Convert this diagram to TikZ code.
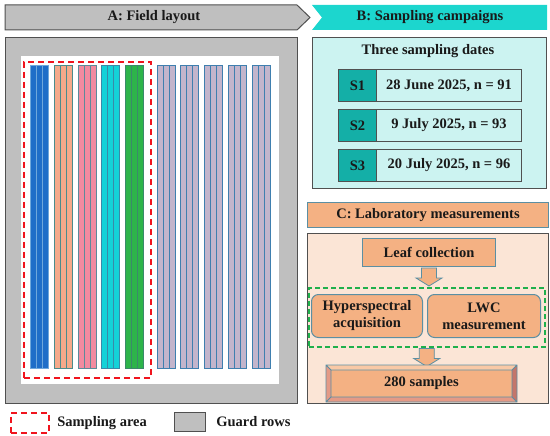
\documentclass[tikz,border=0pt]{standalone}
\usepackage{fontspec}
\setmainfont{Liberation Serif}
\usetikzlibrary{calc, positioning}

\definecolor{guardgray}{HTML}{BFBFBF}
\definecolor{edgegray}{HTML}{505050}
\definecolor{headcyan}{HTML}{1CD6CE}
\definecolor{paleCyan}{HTML}{CCF3F1}
\definecolor{sTeal}{HTML}{14AFA7}
\definecolor{labOrange}{HTML}{F4B183}
\definecolor{labPeach}{HTML}{FBE5D6}
\definecolor{labEdge}{HTML}{5B8FA3}
\definecolor{areaRed}{HTML}{F0141E}
\definecolor{dashGreen}{HTML}{1FB04C}
\definecolor{bevelLight}{HTML}{F9C9A6}
\definecolor{bevelDark}{HTML}{C4766A}
\definecolor{bevelMid}{HTML}{E49A86}

\begin{document}
\begin{tikzpicture}[
   x=1pt, y=-1pt,
   font=\fontsize{14.5}{17}\selectfont\bfseries,
   text=black!90,
   panel/.style={draw=edgegray, line width=1pt, inner sep=0pt, anchor=north west},
   labbox/.style={panel, fill=labOrange, draw=labEdge},
   datebox/.style={panel, fill=paleCyan},
   tagbox/.style={panel, fill=sTeal},
   redarea/.style={draw=areaRed, line width=1.8pt, dash pattern=on 6pt off 4pt},
   greenarea/.style={draw=dashGreen, line width=1.5pt, dash pattern=on 5pt off 3pt},
   blockarr/.style={fill=labOrange, draw=labEdge, line width=0.8pt, line join=miter},
   strip/.style={line width=0.8pt}]

   \useasboundingbox (0,0) rectangle (550,436);

   % headers
   \path[fill=guardgray, draw=edgegray, line width=1pt]
      (5,5) -- (297,5) -- (310,17.5) -- (297,30) -- (5,30) -- cycle;
   \node (headA) at (154,17.5) {A: Field layout};
   \path[fill=headcyan]
      (312,5) -- (547,5) -- (547,30) -- (312,30) -- (322,17.5) -- cycle;
   \node (headB) at (430,17.5) {B: Sampling campaigns};

   % A: field layout
   \node[panel, fill=guardgray, minimum width=292, minimum height=366] (field) at (5,37) {};
   \node[panel, draw=none, fill=white, minimum width=258, minimum height=327] (plot) at (20,56) {};

   \foreach \gx/\gfill/\gdraw in {30/1F6EC8/6FA8DC, 54/F5A98A/4A8C8C, 78/F28AA0/5C8A9A,
         101/14D2D8/3A8AA8, 125/2DB44A/3A8A6A, 157/C3B5CC/3F7FAF, 180/C3B5CC/3F7FAF,
         204/C3B5CC/3F7FAF, 228/C3B5CC/3F7FAF, 252/C3B5CC/3F7FAF} {
      \definecolor{stripfill}{HTML}{\gfill}
      \definecolor{stripdraw}{HTML}{\gdraw}
      \foreach \k in {0,1,2} {
         \path[strip, fill=stripfill, draw=stripdraw]
            (\gx+6*\k,65) rectangle ++(6,303);
      }
   }

   \node[panel, redarea, minimum width=127, minimum height=316] (area) at (23,61) {};

   % legend
   \node[panel, redarea, minimum width=38, minimum height=20] (areakey) at (10,412) {};
   \node[right=4pt of areakey] (areatext) {Sampling area};
   \node[panel, fill=guardgray, line width=0.8pt, minimum width=31, minimum height=19] (guardkey) at (174,412) {};
   \node[right=7pt of guardkey] (guardtext) {Guard rows};

   % B: sampling campaigns
   \node[panel, fill=paleCyan, minimum width=234, minimum height=151] (campaigns) at (312,37) {};
   \node (dates) at (428,51) {Three sampling dates};
   \foreach \s/\y/\txt in {1/69/28 June 2025{,} n = 91, 2/109/9 July 2025{,} n = 93, 3/149/20 July 2025{,} n = 96} {
      \node[tagbox, minimum width=38, minimum height=32] (tag\s) at (338,\y) {};
      \node at (tag\s.center) {S\s};
      \node[datebox, minimum width=145, minimum height=32] (date\s) at (376,\y) {};
      \node at (date\s.center) {\txt};
   }

   % C: laboratory measurements
   \node[labbox, minimum width=241, minimum height=25] (headC) at (307,202) {};
   \node at (headC.center) {C: Laboratory measurements};
   \node[panel, fill=labPeach, minimum width=241, minimum height=170] (lab) at (307,233) {};
   \node[labbox, minimum width=133, minimum height=28] (leaf) at (362,238) {};
   \node at (leaf.center) {Leaf collection};
   \node[panel, greenarea, minimum width=236, minimum height=59] (measure) at (308,287) {};
   \node[labbox, rounded corners=7pt, minimum width=111, minimum height=43] (hyper) at (311,294) {};
   \node[align=center] at (hyper.center) {Hyperspectral\\acquisition};
   \node[labbox, rounded corners=7pt, minimum width=113, minimum height=43] (lwc) at (427,294) {};
   \node[align=center] at (lwc.center) {LWC\\measurement};

   \foreach \src in {leaf, measure} {
      \path[blockarr]
         ($(\src.south)+(-7.5,1)$) -- ($(\src.south)+(7.5,1)$) -- ($(\src.south)+(7.5,11)$)
         -- ($(\src.south)+(13,11)$) -- ($(\src.south)+(0,19)$) -- ($(\src.south)+(-13,11)$)
         -- ($(\src.south)+(-7.5,11)$) -- cycle;
   }

   \node[panel, fill=labOrange, draw=none, minimum width=190, minimum height=36] (samples) at (326,365) {};
   \fill[bevelLight] (samples.north west) -- (samples.north east) -- ($(samples.north east)+(-5,5)$) -- ($(samples.north west)+(5,5)$) -- cycle;
   \fill[bevelMid] (samples.north west) -- ($(samples.north west)+(5,5)$) -- ($(samples.south west)+(5,-5)$) -- (samples.south west) -- cycle;
   \fill[bevelDark] (samples.north east) -- ($(samples.north east)+(-5,5)$) -- ($(samples.south east)+(-5,-5)$) -- (samples.south east) -- cycle;
   \fill[bevelMid] (samples.south west) -- ($(samples.south west)+(5,-5)$) -- ($(samples.south east)+(-5,-5)$) -- (samples.south east) -- cycle;
   \draw[labEdge, line width=0.8pt] (samples.north west) rectangle (samples.south east)
      ($(samples.north west)+(5,5)$) rectangle ($(samples.south east)+(-5,-5)$)
      (samples.north west) -- ++(5,5) (samples.north east) -- ++(-5,5)
      (samples.south west) -- ++(5,-5) (samples.south east) -- ++(-5,-5);
   \node at (samples.center) {280 samples};
\end{tikzpicture}
\end{document}
